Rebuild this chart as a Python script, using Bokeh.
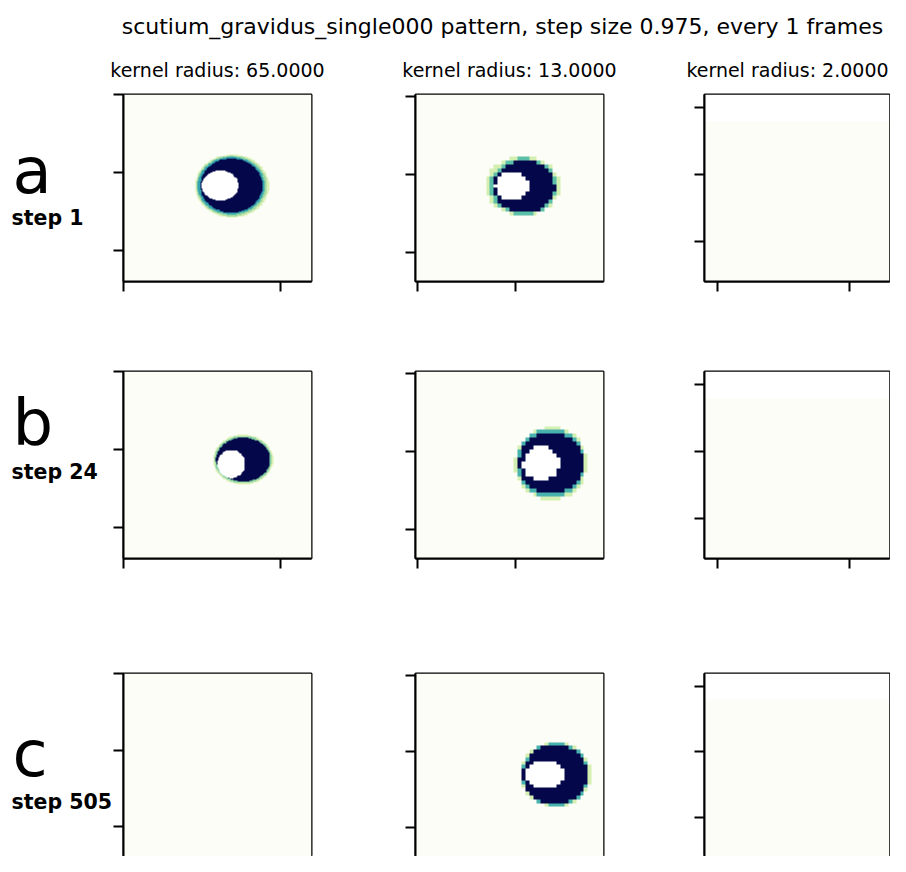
import numpy as np
from bokeh.plotting import figure
from bokeh.models import Range1d, FixedTicker, LinearColorMapper
from bokeh.layouts import column, row
from bokeh.embed import file_html
from bokeh.resources import INLINE
from bokeh.core.properties import value

# ---------------- data ----------------
TITLE = "scutium_gravidus_single000 pattern, step size 0.975, every 1 frames"
KERNEL_RADII = [65.0, 13.0, 2.0]
COL_TITLES = ["kernel radius: %.4f" % r for r in KERNEL_RADII]
ROW_LETTERS = ["a", "b", "c"]
STEPS = [1, 24, 505]
GRID_SIZES = [240, 48, 7]
XTICKS = [[0, 200], [0, 25], [0, 5]]
YTICKS = [[0, 100, 200], [0, 20, 40], [0, 2.5, 5]]
BACKGROUND = 0.03

# creature layers: (centre x, centre y, radius x, radius y, value)
# in grid cells, origin at top-left; later layers overwrite earlier ones
A1_LAYERS = [(138.2, 116.9, 47.2, 40.5, 0.28), (137.6, 116.7, 45.0, 38.8, 0.48),
             (137.0, 116.5, 42.8, 36.9, 0.70), (137.2, 116.3, 39.6, 34.7, 1.00),
             (123.0, 116.5, 23.4, 19.3, 0.00)]
B1_LAYERS = [(152.3, 112.7, 38.3, 32.2, 0.28), (152.3, 112.6, 36.6, 30.2, 0.52),
             (152.3, 112.6, 34.5, 28.2, 1.00), (137.1, 118.2, 17.7, 18.0, 0.00)]
C1_LAYERS = []
A2_LAYERS = [(26.9, 23.0, 9.5, 7.6, 0.30), (27.1, 23.1, 8.6, 7.2, 0.60),
             (27.25, 23.25, 7.85, 6.7, 1.00), (24.2, 22.9, 4.3, 3.8, 0.00)]
B2_LAYERS = [(34.1, 23.1, 9.3, 9.3, 0.30), (34.1, 23.0, 8.8, 8.6, 0.65),
             (34.1, 22.95, 8.3, 7.85, 1.00), (31.55, 23.15, 4.65, 4.45, 0.00)]
C2_LAYERS = [(35.3, 26.0, 9.0, 8.55, 0.30), (35.2, 26.0, 8.6, 8.2, 0.65),
             (35.1, 26.1, 8.3, 7.8, 1.00), (32.4, 26.0, 4.9, 4.0, 0.00)]
COL3_ROW_VALUES = [0.0, BACKGROUND, BACKGROUND, BACKGROUND, BACKGROUND, BACKGROUND, BACKGROUND]

PANEL_LAYERS = [[A1_LAYERS, A2_LAYERS, None],
                [B1_LAYERS, B2_LAYERS, None],
                [C1_LAYERS, C2_LAYERS, None]]

# ---------------- style ----------------
FONT = "DejaVu Sans"
ANCHORS = [(0.00, "#ffffff"), (0.03, "#fcfdf5"), (0.25, "#e2f4b8"), (0.45, "#a8dea0"),
           (0.60, "#5cc0a8"), (0.75, "#2196b4"), (0.88, "#1a4f96"), (1.00, "#04084a")]


def build_palette(anchors, n=256):
    pos = np.array([a[0] for a in anchors])
    rgb = np.array([[int(c[i:i + 2], 16) for i in (1, 3, 5)] for _, c in anchors], float)
    out = []
    for v in np.linspace(0, 1, n):
        r, g, b = (np.interp(v, pos, rgb[:, k]) for k in range(3))
        out.append("#%02x%02x%02x" % (int(round(r)), int(round(g)), int(round(b))))
    return out


cmap = LinearColorMapper(palette=build_palette(ANCHORS), low=0.0, high=1.0)


def raster(n, layers, row_values=None):
    arr = np.full((n, n), BACKGROUND, dtype=float)
    if row_values is not None:
        for i, v in enumerate(row_values):
            arr[i, :] = v
    jj, ii = np.meshgrid(np.arange(n), np.arange(n))
    for cx, cy, rx, ry, v in layers:
        m = ((jj - cx) / rx) ** 2 + ((ii - cy) / ry) ** 2 <= 1.0
        arr[m] = v
    return arr


# ---------------- layout (page pixels) ----------------
TOTAL_W, TOTAL_H = 890, 856
TOP_H = 84
LABEL_W = 112
FRAME_W = [188, 188, 185]
BORDERS_LR = [(11, 90), (14, 87), (14, 1)]
ROW_TB = [(10, 187, 82), (8, 187, 105), (10, 183, 0)]


def style_axes(p):
    for ax in p.axis:
        ax.axis_line_width = 2
        ax.axis_line_color = "black"
        ax.major_tick_out = 10
        ax.major_tick_in = 0
        ax.major_tick_line_width = 2
        ax.major_tick_line_color = "black"
        ax.minor_tick_line_color = None
        ax.major_label_text_font_size = "0px"
        ax.major_label_text_color = None
        ax.major_label_standoff = 0


def make_panel(r, c):
    n = GRID_SIZES[c]
    layers = PANEL_LAYERS[r][c]
    arr = raster(n, [], COL3_ROW_VALUES) if layers is None else raster(n, layers)
    bl, br = BORDERS_LR[c]
    bt, fh, bb = ROW_TB[r]
    p = figure(width=bl + FRAME_W[c] + br, height=bt + fh + bb, title=None,
               x_range=Range1d(-0.5, n - 0.5), y_range=Range1d(-0.5, n - 0.5),
               output_backend="svg", toolbar_location=None,
               x_axis_location=None if r == 2 else "below",
               min_border_left=bl, min_border_right=br,
               min_border_top=bt, min_border_bottom=bb)
    p.image(image=[np.flipud(arr)], x=-0.5, y=-0.5, dw=n, dh=n, color_mapper=cmap)
    p.grid.visible = False
    p.outline_line_color = "black"
    p.outline_line_width = 2
    p.border_fill_color = "white"
    style_axes(p)
    if r != 2:
        p.xaxis.ticker = FixedTicker(ticks=XTICKS[c])
    p.yaxis.ticker = FixedTicker(ticks=[n - 1 - v for v in YTICKS[c]])
    return p


def text_fig(w, h, y_top):
    # data x = page x, data y = -(page y); y_top = page y of the figure's top edge
    f = figure(width=w, height=h, title=None,
               x_range=Range1d(0, w), y_range=Range1d(-(y_top + h), -y_top),
               output_backend="svg", toolbar_location=None, min_border=0,
               x_axis_location=None, y_axis_location=None)
    f.grid.visible = False
    f.outline_line_color = None
    f.border_fill_color = "white"
    f.background_fill_color = "white"
    return f


# top strip: suptitle and column titles
top = text_fig(TOTAL_W, TOP_H, 0)
top.text(x=[502], y=[-25.5], text=[TITLE], text_font=value(FONT), text_font_size="22px",
         text_align="center", text_baseline="alphabetic", text_color="black")
col_centers = [217, 509, 787]
top.text(x=col_centers, y=[-69.5, -69.5, -69.5], text=COL_TITLES, text_font=value(FONT),
         text_font_size="19px", text_align="center", text_baseline="alphabetic",
         text_color="black")

# left strip: row letters and step labels
labels = text_fig(LABEL_W, TOTAL_H - TOP_H, TOP_H)
labels.text(x=[12, 12, 12], y=[-170.5, -422, -753], text=ROW_LETTERS, text_font=value(FONT),
            text_font_size="64px", text_align="left", text_baseline="alphabetic",
            text_color="black")
labels.text(x=[11, 11, 11], y=[-217, -471, -801], text=["step %d" % s for s in STEPS],
            text_font=value(FONT), text_font_size="20.5px", text_font_style="bold",
            text_align="left", text_baseline="alphabetic", text_color="black")

panel_rows = [row([make_panel(r, c) for c in range(3)], spacing=0) for r in range(3)]
body = row([labels, column(panel_rows, spacing=0)], spacing=0)
layout = column([top, body], spacing=0)

open("out.html", "w").write(file_html(layout, INLINE))
